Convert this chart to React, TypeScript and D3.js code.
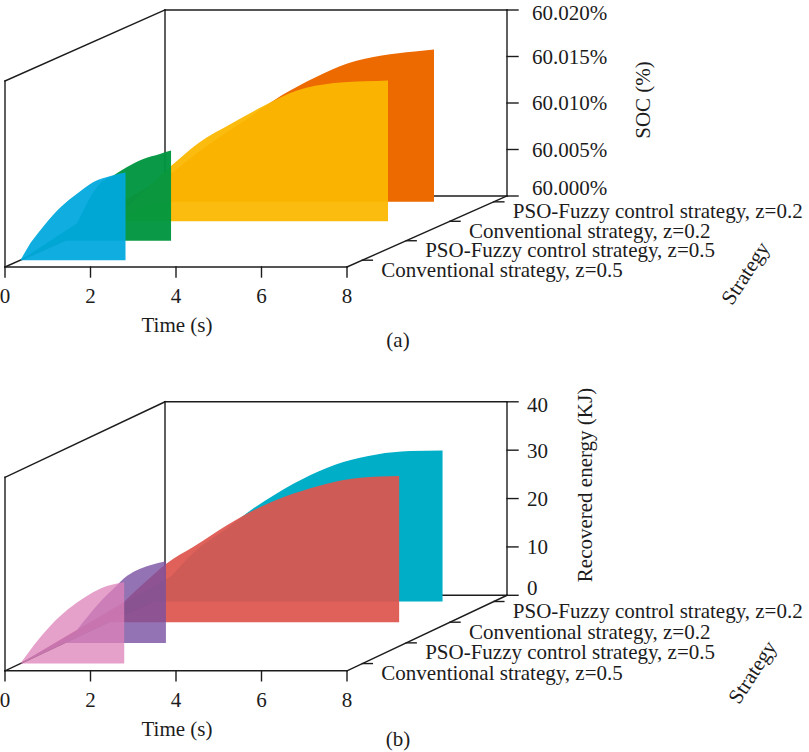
import { useEffect, useRef } from 'react'
import * as d3 from 'd3'

type Pt = [number, number]

const timeTicks = [0, 2, 4, 6, 8]
const strategyNames = [
  'Conventional strategy, z=0.5',
  'PSO-Fuzzy control strategy, z=0.5',
  'Conventional strategy, z=0.2',
  'PSO-Fuzzy control strategy, z=0.2',
]
const strategyPos = [1, 2, 3, 4]

// (a) SOC, %
const socTicks = [60.0, 60.005, 60.01, 60.015, 60.02]
const socTickLabels = ['60.000%', '60.005%', '60.010%', '60.015%', '60.020%']
const socConv05: Pt[] = [[0, 60], [0.24, 60.00188], [0.59, 60.00391], [0.94, 60.00568], [1.34, 60.00719], [1.71, 60.00842], [2.11, 60.00906], [2.46, 60.00942]]
const socPso05: Pt[] = [[0, 60], [0.3, 60.00187], [0.84, 60.00616], [1.15, 60.00701], [1.46, 60.0079], [1.85, 60.0088], [2.24, 60.00934], [2.5, 60.00969]]
const socConv02: Pt[] = [[0, 60], [0.5, 60.0017], [1.0, 60.0039], [1.5, 60.00604], [2.11, 60.0084], [2.9, 60.01054], [3.67, 60.01247], [4.44, 60.01408], [5.24, 60.01483], [6.01, 60.01505], [6.55, 60.01515]]
const socPso02: Pt[] = [[0, 60], [0.47, 60.00309], [1.08, 60.00534], [2.18, 60.00877], [3.04, 60.01145], [3.82, 60.01338], [4.59, 60.01489], [5.38, 60.01574], [6.15, 60.01617], [6.6, 60.01639]]

// (b) recovered energy, KJ
const energyTicks = [0, 10, 20, 30, 40]
const energyTickLabels = ['0', '10', '20', '30', '40']
const energyConv05: Pt[] = [[0, 0], [0.32, 3.84], [0.72, 7.96], [1.12, 11.26], [1.51, 13.73], [1.89, 15.59], [2.43, 16.82]]
const energyPso05: Pt[] = [[0, 0], [0.3, 2.66], [0.84, 8.43], [1.24, 11.94], [1.4, 13.38], [1.7, 15.03], [2.01, 16.06], [2.38, 16.89]]
const energyConv02: Pt[] = [[0, 0], [0.37, 4.16], [0.87, 8.29], [1.37, 12.14], [2.0, 15.57], [2.78, 20.04], [3.56, 23.81], [4.34, 26.58], [5.12, 28.64], [5.9, 29.88], [6.81, 30.21]]
const energyPso02: Pt[] = [[0, 0], [0.45, 5.2], [0.96, 10.0], [1.76, 15.15], [2.37, 19.22], [2.92, 22.31], [3.7, 26.08], [4.48, 28.82], [5.26, 30.41], [6.04, 31.09], [6.8, 31.24]]

interface SeriesDef { data: Pt[]; pos: number; color: string; opacity: number }
interface PanelDef {
  top: number
  depth: Pt
  height: number
  zDomain: Pt
  zTicks: number[]
  zLabels: string[]
  zLabelGap: number
  zTitle: string
  zTitleAt: Pt
  strategyTitleAt: Pt
  letter: string
  letterY: number
  series: SeriesDef[]
}

const FONT = '"Liberation Serif", "Times New Roman", serif'
const INK = '#1c1c1c'

const panels: PanelDef[] = [
  {
    top: 267,
    depth: [160, -71],
    height: 186,
    zDomain: [60.0, 60.02],
    zTicks: socTicks,
    zLabels: socTickLabels,
    zLabelGap: 25,
    zTitle: 'SOC (%)',
    zTitleAt: [643, 100],
    strategyTitleAt: [745, 273],
    letter: '(a)',
    letterY: 340,
    series: [
      { data: socConv05, pos: strategyPos[0], color: 'rgb(0,168,222)', opacity: 0.94 },
      { data: socPso05, pos: strategyPos[1], color: 'rgb(0,150,64)', opacity: 0.96 },
      { data: socConv02, pos: strategyPos[2], color: 'rgb(251,184,0)', opacity: 0.94 },
      { data: socPso02, pos: strategyPos[3], color: 'rgb(236,106,0)', opacity: 1 },
    ],
  },
  {
    top: 670.8,
    depth: [160, -75.5],
    height: 193.5,
    zDomain: [0, 40],
    zTicks: energyTicks,
    zLabels: energyTickLabels,
    zLabelGap: 20,
    zTitle: 'Recovered energy (KJ)',
    zTitleAt: [585, 485],
    strategyTitleAt: [752, 672],
    letter: '(b)',
    letterY: 739,
    series: [
      { data: energyConv05, pos: strategyPos[0], color: 'rgb(222,130,185)', opacity: 0.75 },
      { data: energyPso05, pos: strategyPos[1], color: 'rgb(120,80,160)', opacity: 0.8 },
      { data: energyConv02, pos: strategyPos[2], color: 'rgb(222,85,78)', opacity: 0.93 },
      { data: energyPso02, pos: strategyPos[3], color: 'rgb(0,174,199)', opacity: 1 },
    ],
  },
]

function drawPanel(svg: d3.Selection<SVGSVGElement, unknown, null, undefined>, p: PanelDef) {
  const ox = 5
  const [dx, dy] = p.depth
  const x = d3.scaleLinear().domain([0, 8]).range([0, 342])
  const z = d3.scaleLinear().domain(p.zDomain).range([0, p.height])
  const s = d3.scaleLinear().domain([0.65, 4.3]).range([0, 1])
  const P = (t: number, v: number, f: number): Pt => [ox + x(t) + f * dx, p.top - z(v) + f * dy]
  const [z0, z1] = p.zDomain
  const g = svg.append('g')

  // box edges
  const frame: [Pt, Pt][] = [
    [P(0, z0, 0), P(0, z1, 0)],
    [P(0, z1, 0), P(0, z1, 1)],
    [P(0, z1, 1), P(8, z1, 1)],
    [P(0, z0, 1), P(0, z1, 1)],
    [P(8, z0, 1), P(8, z1, 1)],
    [P(0, z0, 1), P(8, z0, 1)],
    [P(0, z0, 0), P(8, z0, 0)],
    [P(8, z0, 0), P(8, z0, 1)],
    [P(0, z0, 0), P(0, z0, 1)],
  ]
  const ticks: [Pt, Pt][] = [
    ...timeTicks.map(t => { const a = P(t, z0, 0); return [a, [a[0], a[1] + 10]] as [Pt, Pt] }),
    ...p.zTicks.map(v => { const a = P(8, v, 1); return [a, [a[0] + 11, a[1]]] as [Pt, Pt] }),
    ...strategyPos.map(sp => { const a = P(8, z0, s(sp)); return [a, [a[0] + 10, a[1]]] as [Pt, Pt] }),
  ]
  g.selectAll('line.edge')
    .data([...frame, ...ticks])
    .enter()
    .append('line')
    .attr('x1', d => d[0][0])
    .attr('y1', d => d[0][1])
    .attr('x2', d => d[1][0])
    .attr('y2', d => d[1][1])
    .attr('stroke', INK)
    .attr('stroke-width', 1.4)
    .attr('stroke-linecap', 'square')

  // walls, back row first
  const curve = d3.line<Pt>().curve(d3.curveMonotoneX)
  const start = s(strategyPos[0])
  const walls = [...p.series].sort((a, b) => b.pos - a.pos)
  g.selectAll('path.wall')
    .data(walls)
    .enter()
    .append('path')
    .attr('d', d => {
      const f = s(d.pos)
      const o = P(d.data[0][0], d.data[0][1], start)
      const pts = d.data.slice(1).map(q => P(q[0], q[1], f))
      const last = d.data[d.data.length - 1][0]
      const br = P(last, z0, f)
      const bl = P(0, z0, f)
      return `M${o[0]},${o[1]}L${(curve(pts) ?? '').slice(1)}L${br[0]},${br[1]}L${bl[0]},${bl[1]}Z`
    })
    .attr('fill', d => d.color)
    .attr('fill-opacity', d => d.opacity)
    .attr('stroke', 'none')

  const text = (tx: number, ty: number, str: string, anchor = 'start', rotate = 0) =>
    g.append('text')
      .attr('transform', `translate(${tx},${ty}) rotate(${rotate})`)
      .attr('dy', '0.35em')
      .attr('text-anchor', anchor)
      .attr('font-family', FONT)
      .attr('font-size', 21)
      .attr('fill', INK)
      .text(str)

  timeTicks.forEach(t => {
    const a = P(t, z0, 0)
    text(a[0], a[1] + 29, String(t), 'middle')
  })
  p.zTicks.forEach((v, i) => {
    const a = P(8, v, 1)
    // lowest label sits a little above its tick, top one kept inside the page
    const shift = i === 0 ? -8 : i === p.zTicks.length - 1 ? 3 : 0
    text(a[0] + p.zLabelGap, a[1] + shift, p.zLabels[i])
  })
  strategyPos.forEach((sp, i) => {
    const a = P(8, z0, s(sp))
    text(a[0] + 19, a[1] + 9, strategyNames[i])
  })
  text(177, p.top + 57.5, 'Time (s)', 'middle')
  text(p.zTitleAt[0], p.zTitleAt[1], p.zTitle, 'middle', -90)
  text(p.strategyTitleAt[0], p.strategyTitleAt[1], 'Strategy', 'middle', -57)
  text(398, p.letterY, p.letter, 'middle')
}

const App = () => {
  const svgRef = useRef<SVGSVGElement | null>(null)

  useEffect(() => {
    if (!svgRef.current) return
    const svg = d3.select(svgRef.current)
    svg.selectAll('*').remove()
    panels.forEach(p => drawPanel(svg, p))
  }, [])

  return (
    <svg
      ref={svgRef}
      width={809}
      height={752}
      style={{ position: 'absolute', left: 0, top: 0, background: 'white', display: 'block' }}
    />
  )
}

export default App
